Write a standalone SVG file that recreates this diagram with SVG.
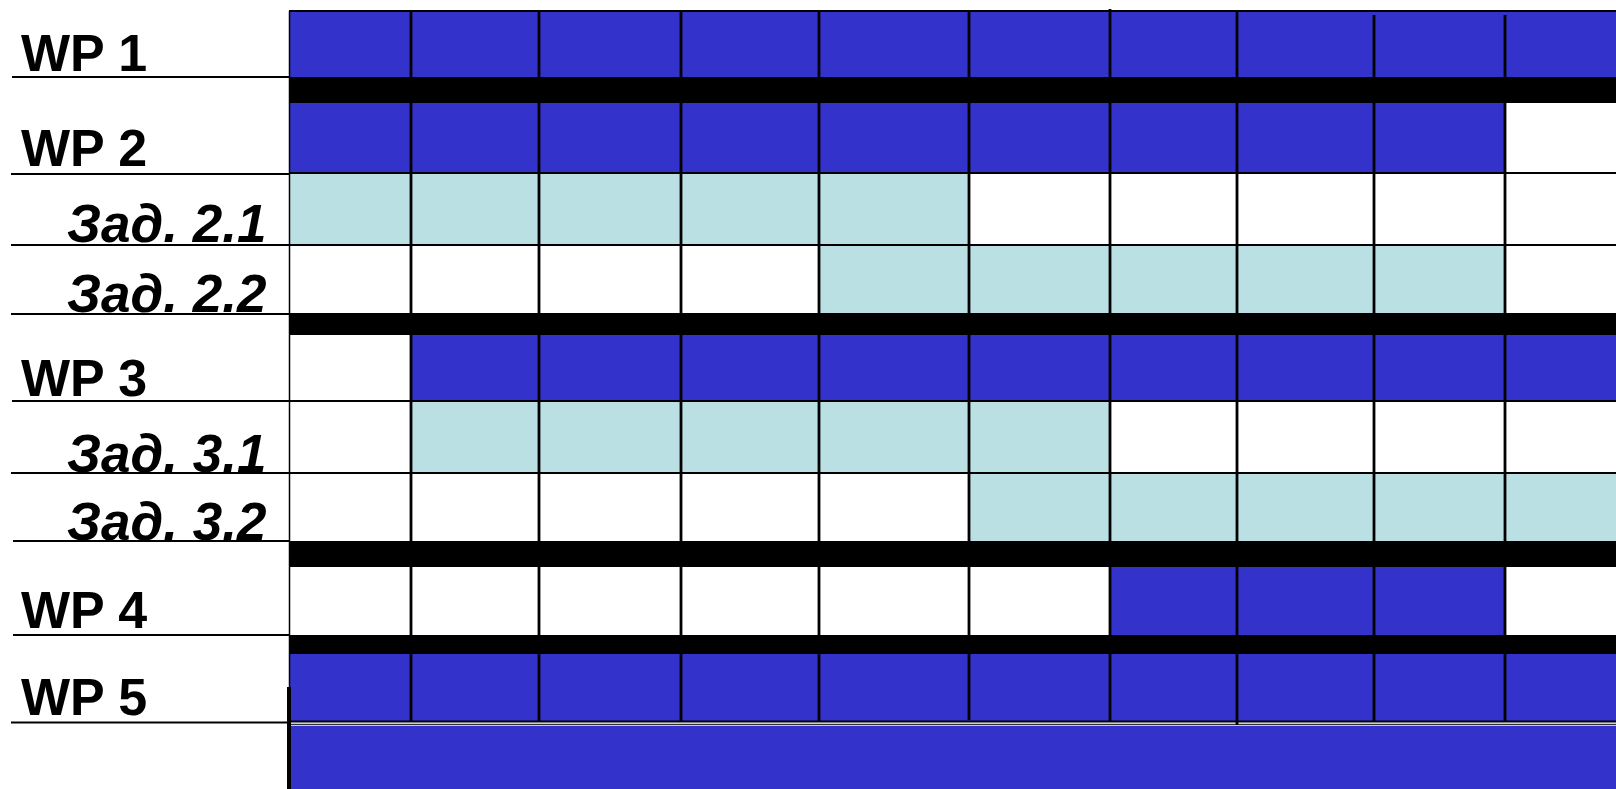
<svg xmlns="http://www.w3.org/2000/svg" width="1616" height="789" viewBox="0 0 1616 789">
<style>
.b{fill:#3333CC}
.l{fill:#BBE0E3}
.bar{fill:#000}
.ln{stroke:#000;stroke-width:2;fill:none}
.vd{stroke:#000;stroke-width:2.8;fill:none}
.wp{font-family:"Liberation Sans",Arial,sans-serif;font-weight:bold;font-size:52px;fill:#000}
.tk{font-family:"Liberation Sans",Arial,sans-serif;font-weight:bold;font-style:italic;font-size:53px;fill:#000}
</style>
<rect width="1616" height="789" fill="#fff"/>
<g id="row-wp1"><rect class="b" x="289" y="11" width="1327" height="66"/><text class="wp" x="21" y="71">WP 1</text></g>
<g id="row-wp2"><rect class="b" x="289" y="103" width="1216" height="70"/><text class="wp" x="21" y="166">WP 2</text></g>
<g id="row-t21"><rect class="l" x="289" y="173" width="680" height="72"/><text class="tk" x="67" y="242">Зад. 2.1</text></g>
<g id="row-t22"><rect class="l" x="819" y="245" width="686" height="68"/><text class="tk" x="67" y="312">Зад. 2.2</text></g>
<g id="row-wp3"><rect class="b" x="411" y="335" width="1205" height="66"/><text class="wp" x="21" y="396">WP 3</text></g>
<g id="row-t31"><rect class="l" x="411" y="401" width="699" height="72"/><text class="tk" x="67" y="472">Зад. 3.1</text></g>
<g id="row-t32"><rect class="l" x="969" y="473" width="647" height="68"/><text class="tk" x="67" y="540">Зад. 3.2</text></g>
<g id="row-wp4"><rect class="b" x="1110" y="567" width="395" height="68"/><text class="wp" x="21" y="628">WP 4</text></g>
<g id="row-wp5"><rect class="b" x="289" y="654" width="1327" height="67"/><text class="wp" x="21" y="715">WP 5</text></g>
<g id="bottom-bar"><rect class="b" x="291" y="726" width="1325" height="63"/></g>
<g id="connectors">
<path class="ln" d="M12 77H289M11 174H289M11 245H289M11 314H289M12 401H289M11 473H289M13 541H289M13 635H289M11 722.5H289"/>
<path class="ln" d="M289 173H1616M289 245H1616M289 401H1616M289 473H1616"/>
<path class="ln" stroke-width="2.5" d="M289 11H1616M289 721.5H1616"/>
<path stroke="#333" stroke-width="1.5" d="M291 724.5H1616"/>
<path class="vd" d="M411 11V722M539 11V722M681 12V722M819 12V722M969 12V720M1110 9V722M1237 12V725M1374 15V722M1505 15V722"/>
<path stroke="#000" stroke-width="1.5" d="M289.5 11V687"/>
<path stroke="#000" stroke-width="4" d="M289 687V789"/>
<rect class="bar" x="289" y="77" width="1327" height="26"/>
<rect class="bar" x="289" y="313" width="1327" height="22"/>
<rect class="bar" x="289" y="541" width="1327" height="26"/>
<rect class="bar" x="289" y="635" width="1327" height="19"/>
</g>
</svg>
